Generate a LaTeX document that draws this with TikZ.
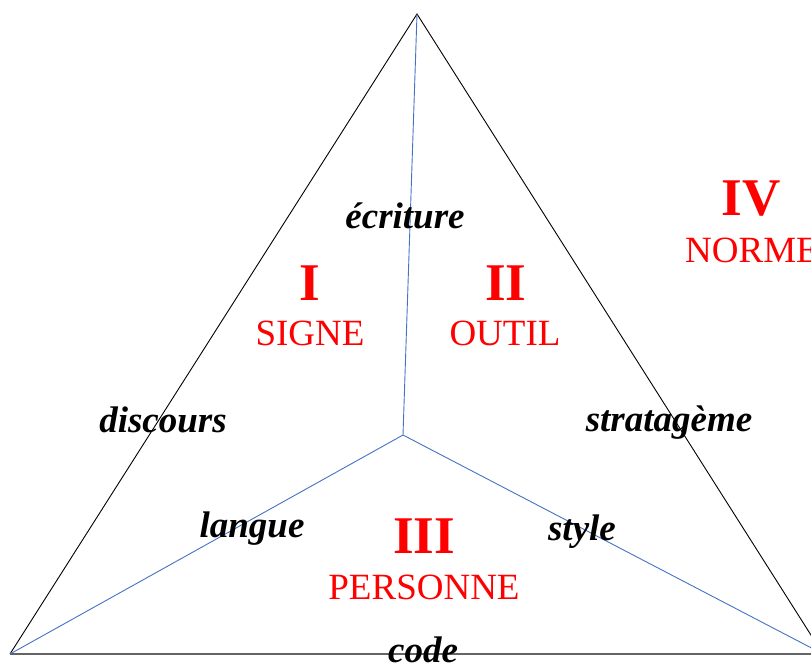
\documentclass[tikz,border=0pt]{standalone}
\usepackage{fontspec}
\setmainfont{Liberation Serif}
\usepackage{xcolor}
\usepackage{tikz}
\usetikzlibrary{positioning, calc}
\definecolor{TriBlue}{RGB}{68, 114, 196}
\definecolor{TriRed}{RGB}{255, 0, 0}
\definecolor{TriGray}{RGB}{100, 100, 100}

\tikzset{
  triside/.style={draw=black, line width=0.9pt},
  spoke/.style={draw=TriBlue, line width=0.9pt},
  bottomline/.style={draw=TriGray, line width=1.8pt},
  numeral/.style={anchor=base, inner sep=0pt, text=TriRed,
    font=\fontsize{53}{53}\selectfont\bfseries},
  sectorname/.style={anchor=base, inner sep=0pt, text=TriRed,
    font=\fontsize{37}{37}\selectfont},
  term/.style={anchor=base, inner sep=0pt, text=black,
    font=\fontsize{37}{37}\selectfont\bfseries\itshape}
}

\begin{document}
\begin{tikzpicture}[x=1pt, y=-1pt]
    \useasboundingbox (0,0) rectangle (811,665);

    % vertices
    \coordinate (apex)  at (417,14);
    \coordinate (left)  at (10,654);
    \coordinate (right) at (823,654);
    \coordinate (mid)   at (403,435);

    \draw[triside] (left) -- (apex) -- (right);
    \draw[bottomline] (left) -- (right);
    \draw[spoke] (mid) -- (apex);
    \draw[spoke] (mid) -- (left);
    \draw[spoke] (mid) -- (right);

    % sectors
    \node[numeral] (numI)   at (310,300) {I};
    \node[sectorname] (signe)  at (310,345) {SIGNE};
    \node[numeral] (numII)  at (506,300) {II};
    \node[sectorname] (outil)  at (505,345) {OUTIL};
    \node[numeral] (numIII) at (424,553) {III};
    \node[sectorname] (personne) at (424,599) {PERSONNE};
    \node[numeral] (numIV)  at (751,215) {IV};
    \node[sectorname, anchor=base west] (norme) at (685,262) {NORME};

    % terms
    \node[term] (ecriture)   at (405,228) {écriture};
    \node[term] (discours)   at (163,432) {discours};
    \node[term] (stratageme) at (669,431) {stratagème};
    \node[term] (langue)     at (252,537) {langue};
    \node[term] (style)      at (582,540) {style};
    \node[term] (code)       at (423,662) {code};
  \end{tikzpicture}
\end{document}
